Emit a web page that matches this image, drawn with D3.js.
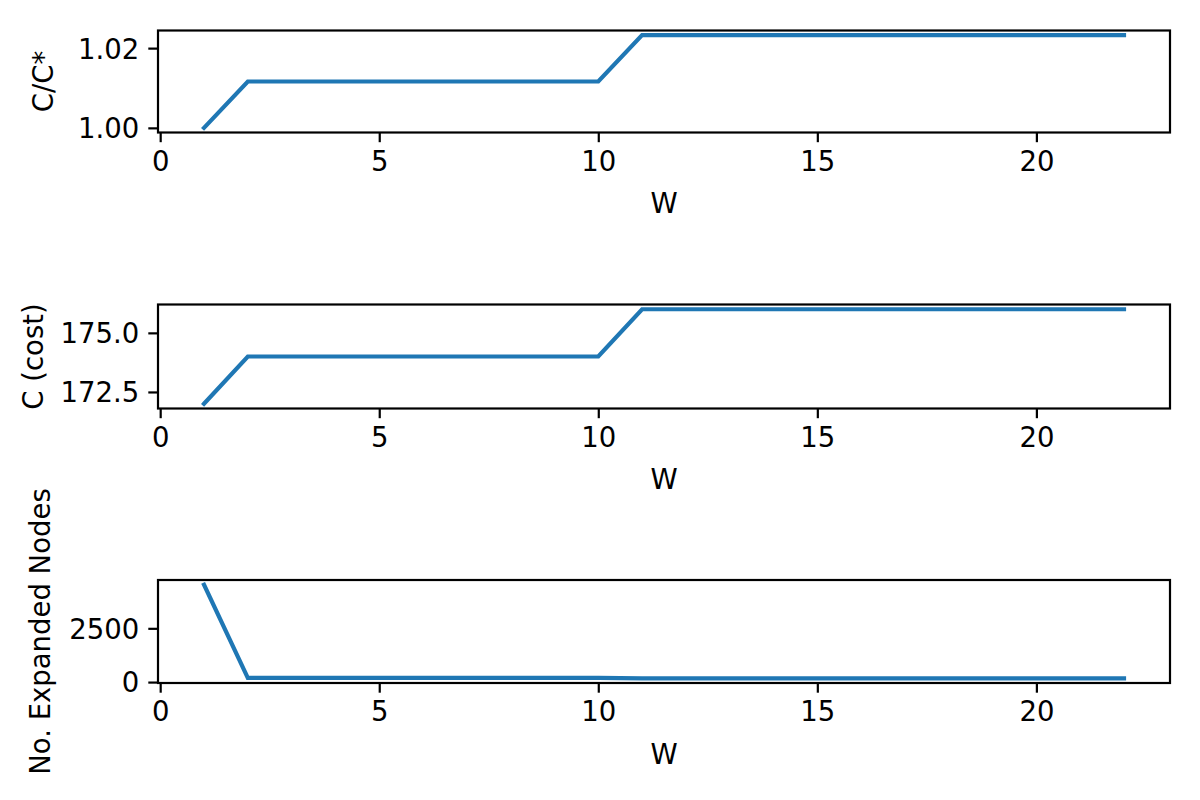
<!DOCTYPE html>
<html><head><meta charset="utf-8">
<script src="https://cdn.jsdelivr.net/npm/d3@7"></script>
<style>body{margin:0;background:#fff}svg{display:block}text{font-family:"DejaVu Sans",sans-serif;fill:#000}</style>
</head><body><svg id="c" width="1200" height="800"></svg>
<script>
const W = [1,2,3,4,5,6,7,8,9,10,11,12,13,14,15,16,17,18,19,20,21,22];
const cost = [172,174,174,174,174,174,174,174,174,174,176,176,176,176,176,176,176,176,176,176,176,176];
const ratio = cost.map(c => c / 172);
const expanded = [4530,195,195,195,195,195,195,195,195,195,175,175,175,175,175,175,175,175,175,175,175,175];
const xTicks = [0,5,10,15,20];
const ratioTicks = [1.00,1.02];
const costTicks = [172.5,175.0];
const expTicks = [0,2500];

const svg = d3.select("#c");
const left = 158, right = 1170;
const fs = 27.5;
const color = "#1f77b4";

function pad(arr){const mn=d3.min(arr),mx=d3.max(arr),r=mx-mn;return [mn-0.05*r,mx+0.05*r];}
const x = d3.scaleLinear().domain(pad(W)).range([left,right]);

const panels = [
  {top:30.5, bottom:132.5, data:ratio, ticks:ratioTicks, fmt:d3.format(".2f"), label:"C/C*", labelX:53},
  {top:304.5, bottom:408.5, data:cost, ticks:costTicks, fmt:d3.format(".1f"), label:"C (cost)", labelX:43},
  {top:580, bottom:683, data:expanded, ticks:expTicks, fmt:d3.format("d"), label:"No. Expanded Nodes", labelX:50}
];

panels.forEach(p => {
  const y = d3.scaleLinear().domain(pad(p.data)).range([p.bottom,p.top]);
  const g = svg.append("g");
  // line
  g.append("path").datum(W.map((w,i)=>[w,p.data[i]]))
    .attr("fill","none").attr("stroke",color).attr("stroke-width",4.2)
    .attr("stroke-linecap","square")
    .attr("d", d3.line().x(d=>x(d[0])).y(d=>y(d[1])));
  // frame
  g.append("rect").attr("x",left).attr("y",p.top).attr("width",right-left).attr("height",p.bottom-p.top)
    .attr("fill","none").attr("stroke","#000").attr("stroke-width",2.2);
  // x axis
  const xa = g.append("g").attr("transform",`translate(0,${p.bottom})`)
    .call(d3.axisBottom(x).tickValues(xTicks).tickSize(9.7).tickPadding(9).tickFormat(d3.format("d")));
  xa.select(".domain").remove();
  xa.selectAll("line").attr("stroke-width",2.2);
  xa.selectAll("text").attr("font-size",fs).attr("font-family","DejaVu Sans");
  // y axis
  const ya = g.append("g").attr("transform",`translate(${left},0)`)
    .call(d3.axisLeft(y).tickValues(p.ticks).tickSize(9.7).tickPadding(9).tickFormat(p.fmt));
  ya.select(".domain").remove();
  ya.selectAll("line").attr("stroke-width",2.2);
  ya.selectAll("text").attr("font-size",fs).attr("font-family","DejaVu Sans").attr("dy","0.36em");
  // x label
  g.append("text").attr("x",(left+right)/2).attr("y",p.bottom+80.5).attr("text-anchor","middle")
    .attr("font-size",fs).text("W");
  // y label
  g.append("text").attr("transform",`translate(${p.labelX},${(p.top+p.bottom)/2}) rotate(-90)`)
    .attr("text-anchor","middle").attr("font-size",fs).text(p.label);
});
</script></body></html>
